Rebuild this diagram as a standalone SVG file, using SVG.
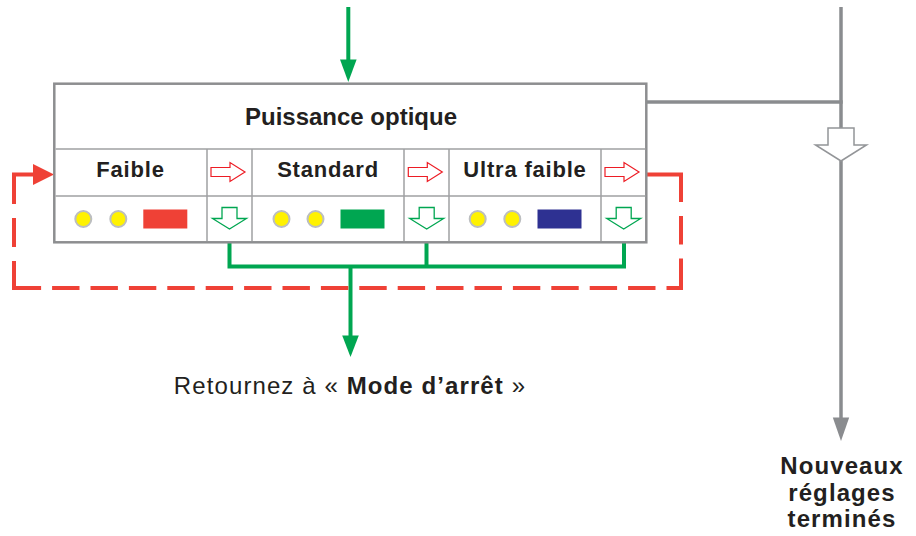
<svg xmlns="http://www.w3.org/2000/svg" xmlns:xlink="http://www.w3.org/1999/xlink" width="916" height="536" viewBox="0 0 916 536">
<style>
  .txt{font-family:"Liberation Sans",Arial,Helvetica,sans-serif;fill:#231f20;}
  .b{font-weight:bold;}
  .title{font-size:24px;font-weight:bold;text-anchor:middle;}
  .lbl{font-size:22px;font-weight:bold;text-anchor:middle;letter-spacing:0.8px;}
  .big{font-size:24px;letter-spacing:1.1px;}
  .frame{fill:#ffffff;stroke:#8d8e90;stroke-width:2.5;}
  .grid{stroke:#a0a1a3;stroke-width:1.5;fill:none;}
  .dot{fill:#fff200;stroke:#bcbec0;stroke-width:2;}
  .red-ar{fill:#ffffff;stroke:#ed1c24;stroke-width:1.2;}
  .grn-ar{fill:#ffffff;stroke:#00a651;stroke-width:1.3;}
  .gray-ar{fill:#ffffff;stroke:#939598;stroke-width:1.5;}
  .gline{stroke:#8a8c8f;stroke-width:3.5;fill:none;}
  .green{stroke:#00a651;stroke-width:4;fill:none;stroke-linejoin:miter;}
  .redline{stroke:#ef4136;stroke-width:4;fill:none;stroke-linejoin:miter;}
</style>
<defs>
  <path id="redArrow" d="M0,-4.5 H19 V-9.5 L34,0 L19,9.5 V4.5 H0 Z"/>
  <path id="greenArrow" d="M-7.5,0 H7.5 V11 H17 L0,21.5 L-17,11 H-7.5 Z"/>
</defs>

<g id="connectors">
  <!-- incoming green arrow -->
  <path class="green" d="M348.3,7 V62"/>
  <polygon points="340,59.5 356.6,59.5 348.3,82" fill="#00a651"/>
  <!-- green return connector -->
  <path class="green" d="M229.5,243 V266.5 H624 V243"/>
  <path class="green" d="M426.5,243 V266.5"/>
  <path class="green" d="M350.5,266.5 V338"/>
  <polygon points="342.2,335.5 358.8,335.5 350.5,357" fill="#00a651"/>
  <!-- red dashed loop -->
  <path class="redline" d="M646,174.5 H681 V288 H14 V174.5 H34" stroke-dasharray="62.5 14 28.5 14 44 11 27.4 11 27.4 11 27.4 11 27.4 11 27.4 11 27.4 11 27.4 11 27.4 11 27.4 11 27.4 11 27.4 11 27.4 11 27.4 11 27.4 11 27.4 11 27.4 11 54 14 29 14 60"/>
  <polygon points="33,164 54,174.5 33,185" fill="#ef4136"/>
  <!-- gray line -->
  <path class="gline" d="M646,102 H842.7"/>
  <path class="gline" d="M841,7 V128"/>
  <path class="gline" d="M841,161 V420"/>
  <path class="gray-ar" d="M-13,0 H13 V17 H25.5 L0,33 L-25.5,17 H-13 Z" transform="translate(841,128)"/>
  <polygon points="832.8,417.5 849.2,417.5 841,441" fill="#8a8c8f"/>
</g>

<g id="power-box">
  <rect class="frame" x="54.3" y="83.7" width="592" height="158.6"/>
  <path class="grid" d="M55.5,149 H645.5 M55.5,196 H645.5 M207,149 V241 M252,149 V241 M404,149 V241 M449,149 V241 M601,149 V241"/>
  <text class="txt title" x="351" y="124.5">Puissance optique</text>

  <g id="mode-faible">
    <text class="txt lbl" x="130.5" y="177">Faible</text>
    <circle class="dot" cx="83.3" cy="219" r="8"/>
    <circle class="dot" cx="118.3" cy="219" r="8"/>
    <rect x="143.3" y="209.5" width="44" height="19" fill="#ef4136"/>
  </g>
  <g id="mode-standard">
    <text class="txt lbl" x="328" y="177">Standard</text>
    <circle class="dot" cx="281.5" cy="219" r="8"/>
    <circle class="dot" cx="315.5" cy="219" r="8"/>
    <rect x="340.5" y="209.5" width="44" height="19" fill="#00a651"/>
  </g>
  <g id="mode-ultra-faible">
    <text class="txt lbl" x="525" y="177">Ultra faible</text>
    <circle class="dot" cx="477.7" cy="219" r="8"/>
    <circle class="dot" cx="512.3" cy="219" r="8"/>
    <rect x="537.5" y="209.5" width="44" height="19" fill="#2e3192"/>
  </g>

  <g id="next-arrows">
    <use xlink:href="#redArrow" href="#redArrow" class="red-ar" transform="translate(211,172)"/>
    <use xlink:href="#redArrow" href="#redArrow" class="red-ar" transform="translate(408.3,172)"/>
    <use xlink:href="#redArrow" href="#redArrow" class="red-ar" transform="translate(605,172)"/>
  </g>
  <g id="confirm-arrows">
    <use xlink:href="#greenArrow" href="#greenArrow" class="grn-ar" transform="translate(229.5,207.5)"/>
    <use xlink:href="#greenArrow" href="#greenArrow" class="grn-ar" transform="translate(426.7,207.5)"/>
    <use xlink:href="#greenArrow" href="#greenArrow" class="grn-ar" transform="translate(623.7,207.5)"/>
  </g>
</g>

<g id="return-label">
  <text class="txt big" x="350" y="394" text-anchor="middle">Retournez à « <tspan class="b">Mode d’arrêt</tspan> »</text>
</g>

<g id="done-label">
  <text class="txt big b" text-anchor="middle" x="842" y="474">Nouveaux</text>
  <text class="txt big b" text-anchor="middle" x="842" y="500.5">réglages</text>
  <text class="txt big b" text-anchor="middle" x="842" y="527">terminés</text>
</g>
</svg>
